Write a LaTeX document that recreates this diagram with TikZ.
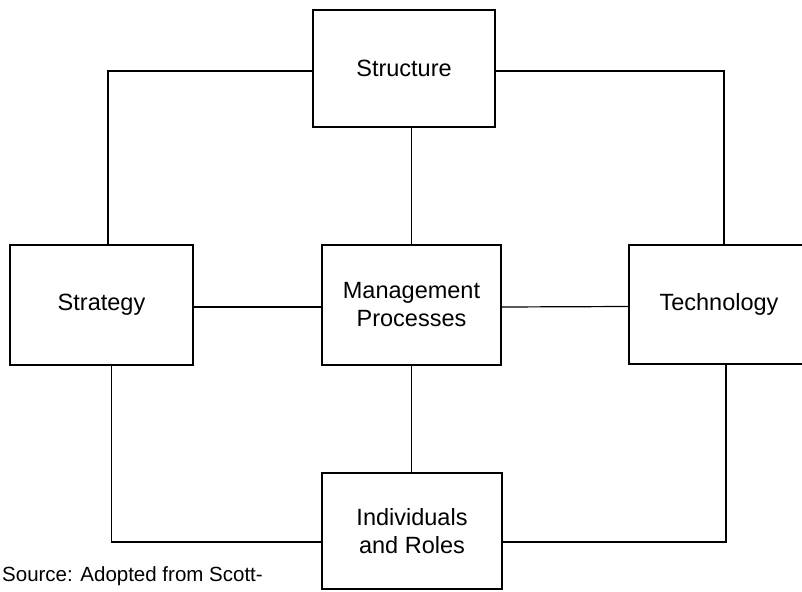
\documentclass[tikz,border=0pt]{standalone}
\usepackage{fontspec}
\setmainfont{Liberation Sans}
\begin{document}
\begin{tikzpicture}[x=1pt,y=-1pt,
  box/.style={draw=black,line width=1.7pt,rectangle,align=center,
    font=\fontsize{23.5}{28}\selectfont,inner sep=0pt},
  link/.style={draw=black,line width=1.2pt}]
\useasboundingbox (0,0) rectangle (802,591);
\clip (0,0) rectangle (802,591);

% the five blocks
\node[box,minimum width=182pt,minimum height=117pt] (structure) at (404,68.5) {Structure};
\node[box,minimum width=183pt,minimum height=120pt] (strategy) at (101.5,305) {Strategy};
\node[box,minimum width=179pt,minimum height=120pt] (mgmt) at (411.5,305) {Management\\Processes};
\node[box,minimum width=180pt,minimum height=119pt] (tech) at (719,304.5) {Technology};
\node[box,minimum width=180pt,minimum height=116pt] (indiv) at (412,531) {Individuals\\and Roles};

% connecting lines
\draw[link] ([yshift=-2.5pt]structure.west) -| ([xshift=6.5pt]strategy.north);
\draw[link] ([yshift=-2.5pt]structure.east) -| ([xshift=5pt]tech.north);
\draw[link] (structure.south -| mgmt.north) -- (mgmt.north);
\draw[link] ([yshift=-2pt]strategy.east) -- ([yshift=-2pt]mgmt.west);
\draw[link] ([yshift=-2pt]mgmt.east) -- ([yshift=-2pt]tech.west);
\draw[link] (mgmt.south) -- (mgmt.south |- indiv.north);
\draw[link] ([xshift=10pt]strategy.south) |- ([yshift=-11pt]indiv.west);
\draw[link] ([xshift=7pt]tech.south) |- ([yshift=-11pt]indiv.east);

% source note
\node[anchor=base west,inner sep=0pt,font=\fontsize{20.5}{24}\selectfont] (source) at (2,581) {Source: Adopted from Scott-};
\end{tikzpicture}
\end{document}
